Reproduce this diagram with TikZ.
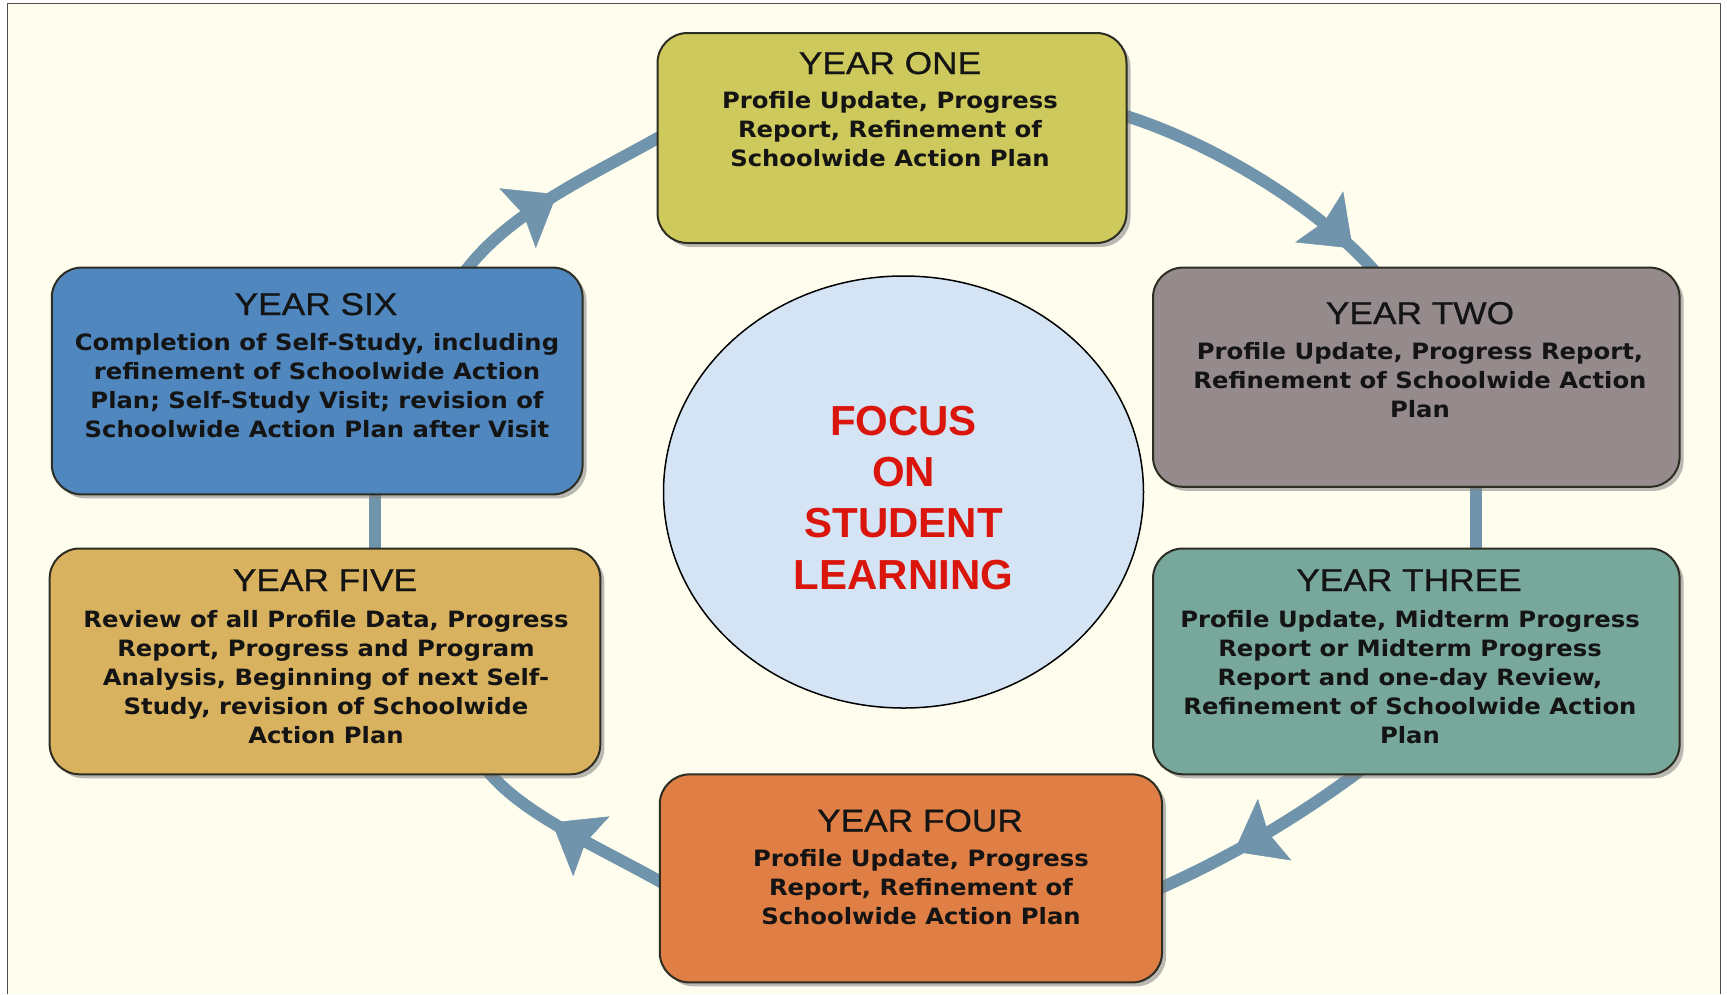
\documentclass[tikz,border=0pt]{standalone}
\usepackage{fontspec}
\usetikzlibrary{arrows.meta,decorations.markings,shadows,calc,shapes.geometric}
\newfontfamily\ttlfont[FakeStretch=1.12,FakeBold=0.8]{Liberation Sans}
\newfontfamily\bdyfont[FakeStretch=1.08]{DejaVu Sans}
\newfontfamily\focfont{Liberation Sans}
\definecolor{bgc}{RGB}{255,254,238}
\definecolor{framec}{RGB}{80,80,80}
\definecolor{boxline}{RGB}{45,45,35}
\definecolor{txt}{RGB}{20,20,20}
\definecolor{focred}{RGB}{218,22,12}
\definecolor{flowc}{RGB}{112,148,172}
\definecolor{cone}{RGB}{206,201,92}
\definecolor{ctwo}{RGB}{149,139,140}
\definecolor{cthree}{RGB}{120,167,155}
\definecolor{cfour}{RGB}{224,127,69}
\definecolor{cfive}{RGB}{217,178,96}
\definecolor{csix}{RGB}{80,135,191}
\definecolor{ccirc}{RGB}{212,228,245}
\pgfdeclarelayer{back}
\pgfdeclarelayer{conn}
\pgfsetlayers{back,conn,main}
\begin{document}
\begin{tikzpicture}[x=1pt,y=-1pt,
  ttl/.style={anchor=base, inner sep=0pt, text=txt, font=\ttlfont\fontsize{31.5}{36}\selectfont},
  bdy/.style={anchor=base, inner sep=0pt, text=txt, font=\bdyfont\bfseries\fontsize{22.5}{29}\selectfont},
  foc/.style={anchor=base, inner sep=0pt, text=focred, font=\focfont\bfseries\fontsize{42}{50}\selectfont},
  yrbox/.style 2 args={draw=boxline, line width=2pt, rounded corners=30pt, inner sep=0pt, outer sep=0pt,
    minimum width=#1, minimum height=#2,
    drop shadow={shadow xshift=4pt, shadow yshift=-4pt, opacity=0.55}},
  flow/.style={draw=flowc, line width=12pt},
  headat/.style={postaction={decorate}, decoration={markings,
    mark=at position #1 with {\arrow{Stealth[length=46pt,width=70pt,inset=7pt,line width=0.5pt,color=flowc]}}}}
]
\useasboundingbox (0,0) rectangle (1727,994);
\begin{pgfonlayer}{back}
  \fill[white] (0,0) rectangle (1727,994);
  \fill[bgc] (7.5,3.5) rectangle (1720.5,994);
  \draw[framec, line width=1.5pt] (7.5,994) -- (7.5,3.5) -- (1720.5,3.5) -- (1720.5,994);
\end{pgfonlayer}

% boxes
\node[yrbox={469pt}{210pt}, fill=cone] (y1) at (892,138) {};
\node[yrbox={526.6pt}{219.2pt}, fill=ctwo] (y2) at (1416.3,377.2) {};
\node[yrbox={526.6pt}{225.8pt}, fill=cthree] (y3) at (1416.3,661.4) {};
\node[yrbox={502.3pt}{208.1pt}, fill=cfour] (y4) at (910.9,878.4) {};
\node[yrbox={550.7pt}{225.8pt}, fill=cfive] (y5) at (325,661.4) {};
\node[yrbox={530.8pt}{226.9pt}, fill=csix] (y6) at (317.2,381) {};

% centre
\node[ellipse, draw=black, line width=1.5pt, fill=ccirc, minimum width=480pt, minimum height=432pt, inner sep=0pt] (focus) at (903.5,492) {};
\node[foc] (f1) at (903.5,435) {FOCUS};
\node[foc] (f2) at (903.5,486) {ON};
\node[foc] (f3) at (903.5,537.5) {STUDENT};
\node[foc] (f4) at (903.5,589) {LEARNING};

% texts
\node[ttl] (t1) at (890,74) {YEAR ONE};
\foreach \s [count=\i] in {{Profile Update, Progress},{Report, Refinement of},{Schoolwide Action Plan}}
  \node[bdy] (b1-\i) at (890,{108+29.3*(\i-1)}) {\s};

\node[ttl] (t2) at (1420,324) {YEAR TWO};
\foreach \s [count=\i] in {{Profile Update, Progress Report,},{Refinement of Schoolwide Action},{Plan}}
  \node[bdy] (b2-\i) at (1420,{359+29.3*(\i-1)}) {\s};

\node[ttl] (t3) at (1409,591) {YEAR THREE};
\foreach \s [count=\i] in {{Profile Update, Midterm Progress},{Report or Midterm Progress},{Report and one-day Review,},{Refinement of Schoolwide Action},{Plan}}
  \node[bdy] (b3-\i) at (1410,{627+29.2*(\i-1)}) {\s};

\node[ttl] (t4) at (920,831.5) {YEAR FOUR};
\foreach \s [count=\i] in {{Profile Update, Progress},{Report, Refinement of},{Schoolwide Action Plan}}
  \node[bdy] (b4-\i) at (921,{866+29.2*(\i-1)}) {\s};

\node[ttl] (t5) at (325,591) {YEAR FIVE};
\foreach \s [count=\i] in {{Review of all Profile Data, Progress},{Report, Progress and Program},{Analysis, Beginning of next Self-},{Study, revision of Schoolwide},{Action Plan}}
  \node[bdy] (b5-\i) at (326,{627+29.2*(\i-1)}) {\s};

\node[ttl] (t6) at (316,315) {YEAR SIX};
\foreach \s [count=\i] in {{Completion of Self-Study, including},{refinement of Schoolwide Action},{Plan; Self-Study Visit; revision of},{Schoolwide Action Plan after Visit}}
  \node[bdy] (b6-\i) at (317,{350+29.3*(\i-1)}) {\s};

% connectors
\begin{pgfonlayer}{conn}
  \draw[flow, headat=0.88] ($(y1.east)+(-10,-25)$) .. controls +(110,33) and +(-44,-54) .. ($(y2.north)+(-38,8)$);
  \coordinate (c2) at ($(y2.south)+(60,-5)$);
  \draw[flow] (c2) -- ($(c2 |- y3.north)+(0,5)$);
  \draw[flow, headat=0.63] ($(y3.south)+(-53,-6)$) .. controls +(-72,54) and +(72,-32) .. ($(y4.east)+(-9,13)$);
  \draw[flow, headat=0.6] ($(y4.west)+(9,8)$) .. controls +(-70,-40) and +(36,48) .. ($(y5.south)+(159,-8)$);
  \coordinate (c5) at ($(y5.north)+(49.5,5)$);
  \draw[flow] (c5) -- ($(c5 |- y6.south)+(0,-5)$);
  \draw[flow, headat=0.5] ($(y6.north)+(145,8)$) .. controls +(46,-65) and +(-69,40) .. ($(y1.west)+(9,-5)$);
\end{pgfonlayer}
\end{tikzpicture}
\end{document}
